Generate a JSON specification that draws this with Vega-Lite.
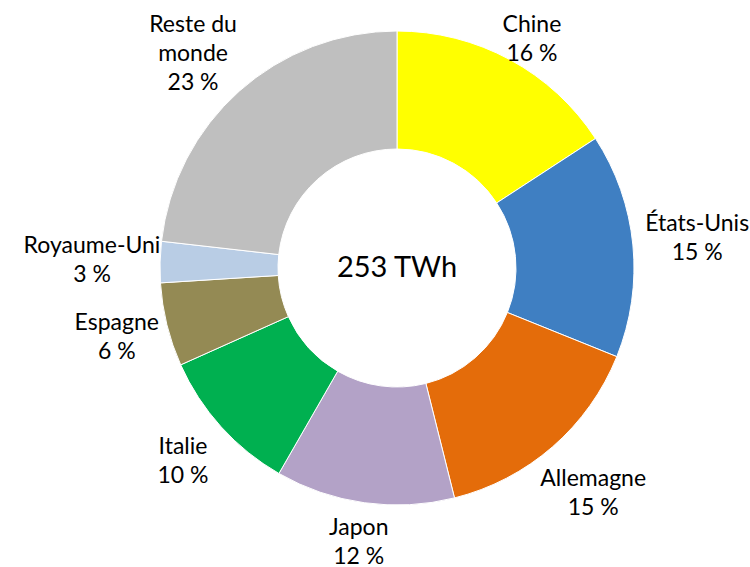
{
  "$schema": "https://vega.github.io/schema/vega-lite/v6.json",
  "autosize": {"type": "none"},
  "width": 706,
  "height": 536,
  "padding": {"left": 44, "top": 0, "right": 0, "bottom": 31},
  "background": "white",
  "config": {"view": {"stroke": null}, "font": "Lato"},
  "data": {"values": [
    {"rank": 1, "name": "Chine", "share": 15.8},
    {"rank": 2, "name": "États-Unis", "share": 15.3},
    {"rank": 3, "name": "Allemagne", "share": 15.0},
    {"rank": 4, "name": "Japon", "share": 12.2},
    {"rank": 5, "name": "Italie", "share": 10.0},
    {"rank": 6, "name": "Espagne", "share": 5.7},
    {"rank": 7, "name": "Royaume-Uni", "share": 2.8},
    {"rank": 8, "name": "Reste du\nmonde", "share": 23.2}
  ]},
  "layer": [
    {
      "mark": {"type": "arc", "outerRadius": 237, "innerRadius": 119, "stroke": "white", "strokeWidth": 1},
      "encoding": {
        "theta": {"field": "share", "type": "quantitative", "stack": true},
        "order": {"field": "rank", "type": "quantitative"},
        "color": {
          "field": "name", "type": "nominal", "legend": null,
          "scale": {
            "domain": ["Chine", "États-Unis", "Allemagne", "Japon", "Italie", "Espagne", "Royaume-Uni", "Reste du\nmonde"],
            "range": ["#FFFF00", "#3F7FC2", "#E46C0A", "#B3A2C7", "#00B050", "#948A54", "#B9CDE5", "#BFBFBF"]
          }
        }
      }
    },
    {
      "transform": [
        {"calculate": "datum.name + '\\n' + format(datum.share, '.0f') + ' %'", "as": "label"},
        {"calculate": "max(length(split(datum.name, '\\n')[0]), length(peek(split(datum.name, '\\n'))))", "as": "lw"},
        {"calculate": "length(split(datum.name, '\\n')) + 1", "as": "nl"}
      ],
      "mark": {
        "type": "text", "lineBreak": "\n", "fontSize": 23, "lineHeight": 29,
        "align": "center", "baseline": "middle", "color": "#000000",
        "radius": {"expr": "245 + 5.4*datum.lw*abs(sin((datum.share_start+datum.share_end)*PI/100)) + 14.5*datum.nl*abs(cos((datum.share_start+datum.share_end)*PI/100))"},
        "dy": {"expr": "-(datum.nl-1)*14.5 + max(0, 10 + datum.nl*14.5 - (height/2 - (245 + 5.4*datum.lw*abs(sin((datum.share_start+datum.share_end)*PI/100)) + 14.5*datum.nl*abs(cos((datum.share_start+datum.share_end)*PI/100)))*cos((datum.share_start+datum.share_end)*PI/100)))"}
      },
      "encoding": {
        "theta": {"field": "share", "type": "quantitative", "stack": true},
        "order": {"field": "rank", "type": "quantitative"},
        "detail": {"field": "name", "type": "nominal"},
        "text": {"field": "label", "type": "nominal"}
      }
    },
    {
      "data": {"values": [{"total": "253 TWh"}]},
      "mark": {"type": "text", "fontSize": 29, "color": "#000000", "align": "center", "baseline": "middle"},
      "encoding": {"text": {"field": "total", "type": "nominal"}}
    }
  ]
}
